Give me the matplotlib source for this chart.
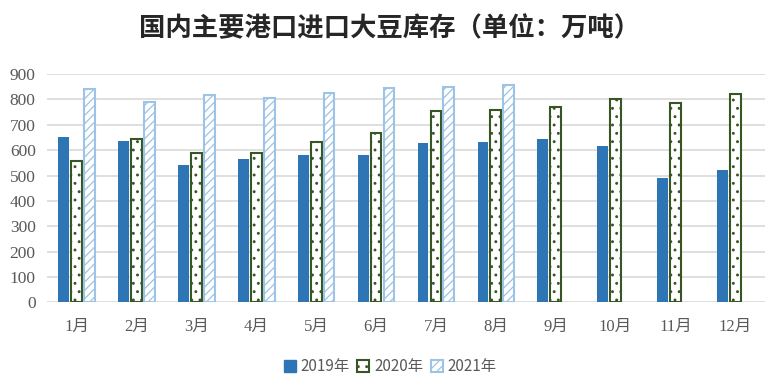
import numpy as np
import matplotlib.pyplot as plt
from matplotlib.patches import Patch

plt.rcParams['font.family'] = ['Noto Sans CJK SC', 'DejaVu Sans']
plt.rcParams['hatch.linewidth'] = 0.9

months = ['1月', '2月', '3月', '4月', '5月', '6月', '7月', '8月', '9月', '10月', '11月', '12月']
y2019 = [650, 636, 540, 566, 582, 582, 628, 632, 646, 616, 491, 521]
y2020 = [558, 644, 590, 590, 631, 668, 755, 758, 769, 803, 786, 822]
y2021 = [842, 788, 816, 806, 826, 845, 850, 858]
yticks = list(range(0, 901, 100))

fig = plt.figure(figsize=(7.8, 3.8), dpi=100)
ax = fig.add_axes([0.06, 0.2045, 0.921, 0.6005])

x = np.arange(len(months))
w = 0.18
ax.bar(x - 0.215, y2019, w, color='#2E75B6', zorder=3)
ax.bar(x, y2020, w, facecolor='white', edgecolor='#375623', hatch='..', linewidth=1.5, zorder=3)
ax.bar(x[:len(y2021)] + 0.215, y2021, w, facecolor='white', edgecolor='#9DC3E6', hatch='////', linewidth=1.5, zorder=3)

ax.set_xlim(-0.5, 11.5)
ax.set_ylim(0, 900)
ax.grid(axis='y', color='#D9D9D9', linewidth=1.2, zorder=0)
for s in ax.spines.values():
    s.set_visible(False)
ax.tick_params(length=0, colors='#595959')
ax.tick_params(axis='x', pad=12)
ax.tick_params(axis='y', pad=8)
ax.set_xticks(x)
ax.set_xticklabels(months, family=['Liberation Serif', 'Noto Sans CJK SC'], fontsize=12)
ax.set_yticks(yticks)
ax.set_yticklabels([str(v) for v in yticks], family=['Liberation Serif', 'Noto Sans CJK SC'], fontsize=12.5)

fig.text(0.5, 0.925, '国内主要港口进口大豆库存（单位：万吨）', ha='center', va='center',
         fontsize=19, fontweight='bold', color='#262626')

handles = [Patch(facecolor='#2E75B6', edgecolor='#2E75B6'),
           Patch(facecolor='white', edgecolor='#375623', hatch='..', linewidth=1.5),
           Patch(facecolor='white', edgecolor='#9DC3E6', hatch='////', linewidth=1.5)]
fig.legend(handles, ['2019年', '2020年', '2021年'], loc='center', bbox_to_anchor=(0.5, 0.035),
           ncol=3, frameon=False, fontsize=11, handlelength=0.8, handleheight=0.8,
           handletextpad=0.3, columnspacing=0.5, labelcolor='#595959')

fig.savefig('out.png', dpi=100)
